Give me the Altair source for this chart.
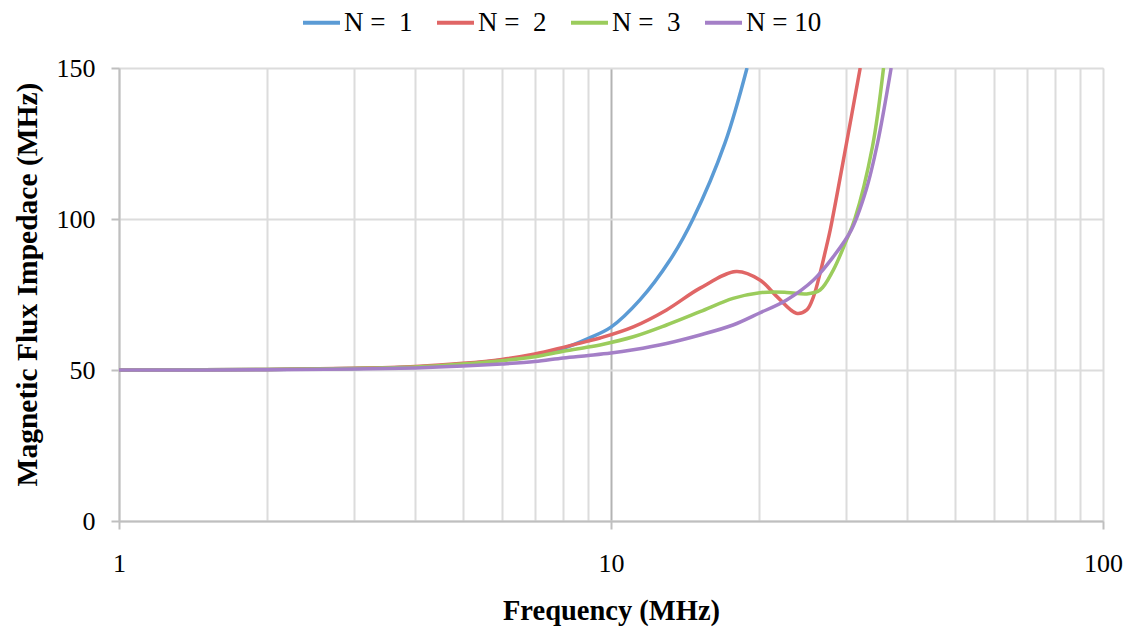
import altair as alt
import pandas as pd

# ---- data ----
freq_n1 = [1, 2, 3, 4, 5, 6, 7, 8, 9, 10, 11.45, 13.18, 14.68, 17.05, 18.9]
imp_n1 = [50, 50.15, 50.5, 51.0, 52.0, 53.3, 55.0, 57.2, 60.5, 64.2, 73.2, 86.4, 100.0, 125.2, 150.0]

freq_n2 = [1, 2, 3, 4, 5, 6, 7, 8, 9, 9.5, 11.1, 12.97, 15.17, 17.98, 20.07, 21.74, 23.8,
           25.0, 25.8, 26.6, 27.4, 27.9, 30.1, 32.1]
imp_n2 = [50, 50.2, 50.6, 51.2, 52.2, 53.5, 55.3, 57.5, 59.6, 60.6, 64.3, 69.9, 77.1, 82.6, 79.8,
          74.3, 68.8, 69.9, 74.3, 82.0, 90.8, 96.4, 125.0, 150.0]

freq_n3 = [1, 2, 3, 4, 5, 6, 7, 8, 9, 9.5, 11.1, 12.97, 15.17, 17.7, 20.07, 22.75, 25.0, 26.6,
           28.3, 30.1, 31.3, 34.0, 35.8]
imp_n3 = [50, 50.15, 50.5, 51.0, 52.0, 53.1, 54.4, 56.2, 57.6, 58.3, 61.0, 64.9, 69.3, 73.7, 75.6,
          75.7, 75.2, 76.5, 83.1, 93.0, 100.0, 124.0, 150.0]

freq_n10 = [1, 2, 3, 4, 5, 6, 7, 8, 9, 10, 11.1, 12.97, 15.17, 17.7, 20, 22.75, 25.8, 28.3, 30.8,
            33.0, 34.8, 37.1]
imp_n10 = [50, 50.1, 50.3, 50.7, 51.3, 52.0, 52.8, 54.0, 54.8, 55.6, 56.7, 58.8, 61.6, 64.9, 68.8,
           73.2, 79.8, 87.5, 96.4, 109.6, 125.0, 150.0]

series_names = ["N = \u00a01", "N = \u00a02", "N = \u00a03", "N = 10"]
series_colors = ["#5b9bd5", "#e06666", "#9bcc5c", "#a47fc7"]

grid_values = [1, 2, 3, 4, 5, 6, 7, 8, 9, 10, 20, 30, 40, 50, 60, 70, 80, 90, 100]
y_values = [0, 50, 100, 150]

rows = []
for name, fs, vs in zip(series_names, [freq_n1, freq_n2, freq_n3, freq_n10],
                        [imp_n1, imp_n2, imp_n3, imp_n10]):
    for f, v in zip(fs, vs):
        rows.append({"series": name, "freq": f, "imp": v})
df = pd.DataFrame(rows)

FONT = "Liberation Serif"
decade_test = "datum.value == 1 || datum.value == 10 || datum.value == 100"

chart = alt.Chart(df).mark_line(
    strokeWidth=3.5, interpolate="catmull-rom", clip=True
).encode(
    x=alt.X(
        "freq:Q",
        scale=alt.Scale(type="log", domain=[1, 100], nice=False),
        axis=alt.Axis(
            values=grid_values,
            format="~g",
            labelExpr="(" + decade_test + ") ? datum.label : ''",
            title="Frequency (MHz)",
            titleFont=FONT, titleFontSize=28.5, titleFontWeight="bold", titleColor="#000000",
            titleBaseline="middle", titleY=89,
            labelFont=FONT, labelFontSize=26, labelColor="#000000", labelPadding=21,
            labelFlush=False, labelOverlap=False,
            tickSize=8, tickColor="#bfbfbf", tickWidth=2,
            tickOpacity={"condition": {"test": decade_test, "value": 1}, "value": 0},
            domainColor="#bfbfbf", domainWidth=2,
            grid=True, gridWidth=2,
            gridColor={"condition": {"test": "datum.value == 10", "value": "#b3b3b3"},
                       "value": "#dcdcdc"},
        ),
    ),
    y=alt.Y(
        "imp:Q",
        scale=alt.Scale(domain=[0, 150], nice=False),
        axis=alt.Axis(
            values=y_values,
            title="Magnetic Flux Impedace (MHz)",
            titleFont=FONT, titleFontSize=29.5, titleFontWeight="bold", titleColor="#000000",
            titleBaseline="middle", titleX=-92, titleY=216,
            labelFont=FONT, labelFontSize=26, labelColor="#000000", labelPadding=16,
            tickSize=8, tickColor="#bfbfbf", tickWidth=2,
            domainColor="#bfbfbf", domainWidth=2,
            grid=True, gridWidth=2, gridColor="#dcdcdc",
        ),
    ),
    color=alt.Color(
        "series:N",
        scale=alt.Scale(domain=series_names, range=series_colors),
        legend=alt.Legend(
            title=None, orient="none", direction="horizontal",
            legendX=182, legendY=-66,
            symbolType="stroke", symbolSize=1369, symbolStrokeWidth=4,
            labelFont=FONT, labelFontSize=27, labelColor="#000000", labelOffset=2,
            columnPadding=16, padding=0,
        ),
    ),
).properties(
    width=984, height=453,
    autosize=alt.AutoSizeParams(type="none"),
    padding={"left": 119, "top": 68, "right": 29, "bottom": 113},
).configure_view(strokeWidth=0).configure(background="white")

chart.save("out.html", embed_options={"renderer": "svg", "actions": False})
